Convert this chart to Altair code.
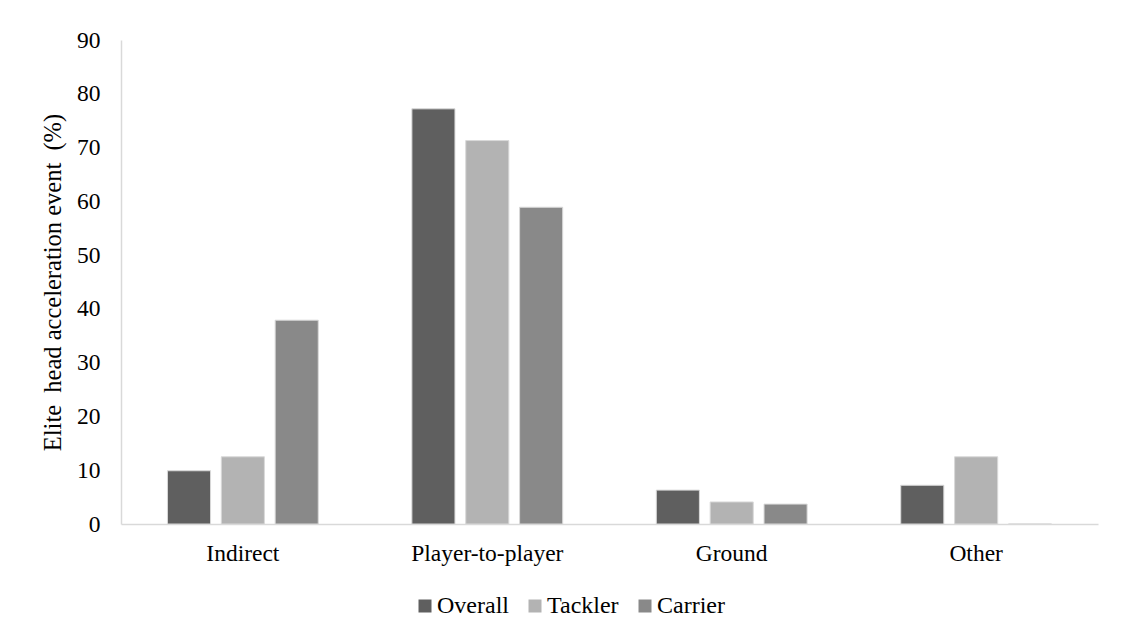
import altair as alt
import pandas as pd

# Share of elite head acceleration events by contact mechanism
mechanisms = ["Indirect", "Player-to-player", "Ground", "Other"]
groups = ["Overall", "Tackler", "Carrier"]
overall = [9.9, 77.2, 6.3, 7.2]
tackler = [12.5, 71.3, 4.1, 12.5]
carrier = [37.9, 58.9, 3.7, 0.0]
colors = ["#5f5f5f", "#b3b3b3", "#898989"]

rows = []
for i, m in enumerate(mechanisms):
    for g, series in zip(groups, [overall, tackler, carrier]):
        rows.append({"mechanism": m, "group": g, "value": series[i]})
df = pd.DataFrame(rows)

font = "'Liberation Serif', 'Times New Roman', serif"
fs = 23.5

chart = (
    alt.Chart(df)
    .mark_bar(stroke="#d9d9d9", strokeWidth=1)
    .encode(
        x=alt.X(
            "mechanism:N",
            sort=mechanisms,
            title=None,
            scale=alt.Scale(paddingInner=0.383, paddingOuter=0.19),
            axis=alt.Axis(
                labelAngle=0,
                ticks=False,
                labelPadding=17,
                domainColor="#d9d9d9",
                domainWidth=1.5,
            ),
        ),
        xOffset=alt.XOffset(
            "group:N", sort=groups, scale=alt.Scale(paddingInner=0.2, paddingOuter=0)
        ),
        y=alt.Y(
            "value:Q",
            title="Elite\u00a0 head acceleration event\u00a0 (%)",
            scale=alt.Scale(domain=[0, 90], nice=False),
            axis=alt.Axis(
                values=list(range(0, 91, 10)),
                ticks=False,
                grid=False,
                labelPadding=21,
                titlePadding=11,
                domainColor="#d9d9d9",
                domainWidth=1.5,
            ),
        ),
        color=alt.Color(
            "group:N",
            sort=groups,
            scale=alt.Scale(domain=groups, range=colors),
            legend=alt.Legend(
                title=None,
                orient="none",
                direction="horizontal",
                legendX=292,
                legendY=554,
                symbolType="square",
                symbolSize=169,
                symbolStrokeWidth=0,
                labelOffset=0,
                columnPadding=14,
                padding=0,
            ),
        ),
    )
    .properties(
        width=977,
        height=484,
        padding={"left": 121, "top": 40, "right": 29, "bottom": 111},
        autosize=alt.AutoSizeParams(type="none"),
    )
    .configure_view(stroke=None)
    .configure_axis(
        labelFont=font,
        labelFontSize=fs,
        labelColor="#000000",
        titleFont=font,
        titleFontSize=24.5,
        titleFontWeight="normal",
        titleColor="#000000",
    )
    .configure_legend(labelFont=font, labelFontSize=24, labelColor="#000000")
)

chart.save("out.html", embed_options={"renderer": "svg", "actions": False})
